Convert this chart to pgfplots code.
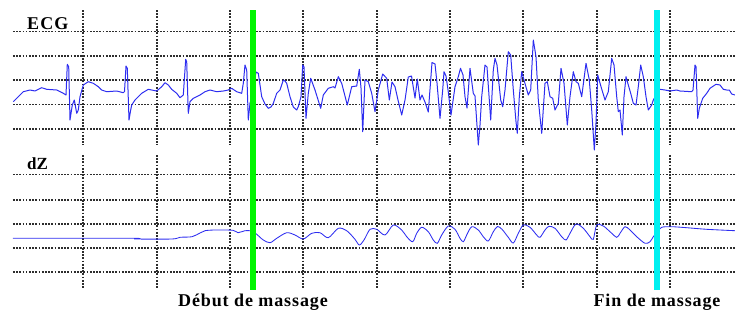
\documentclass[border=0pt]{standalone}
\usepackage{pgfplots}
\pgfplotsset{compat=1.18}
\usepackage{fontspec}
\setmainfont{Liberation Serif}
\definecolor{sig}{RGB}{45,45,240}
\definecolor{gridc}{RGB}{45,45,45}
\pgfplotsset{
  panel/.style={
    scale only axis, width=722pt, xmin=13, xmax=735, y dir=reverse,
    xtick={83,157,230,303,377,450,523,597,670},
    xticklabels={}, yticklabels={}, major tick length=0pt,
    axis line style={draw=none}, grid=major,
    major grid style={gridc, line width=1.1pt, dash pattern=on 1.7pt off 1.5pt},
    clip=false,
  }
}
\begin{document}
\begin{tikzpicture}
\useasboundingbox (0,0) rectangle (735pt,-314pt);
% ECG panel
\begin{axis}[panel, at={(13pt,-145pt)}, anchor=south west, height=135pt, ymin=10, ymax=145,
  ytick={31.5,56,80,104.5,129}]
\addplot[sig, line width=1pt, line join=round] coordinates {
(13.3,101.7) (18,97) (23.3,91.7) (30,90) (35,91) (41.7,87.7) (46.7,89.3) (56.7,90) (63.3,93.3) (66,95) (67.3,64.3) (68.7,66.7) (70,120) (72.3,105) (74.3,100) (76.7,113.3) (78.3,110) (80,96.7) (83.3,85) (88.3,81.7) (93.3,83.3) (98.3,86.7) (101.7,90) (106.7,91.7) (116.7,91) (123.3,92.7) (124.5,91.5) (126,66) (127.3,68.3) (129,120) (130.7,110) (131.7,105) (135,100) (141.7,93.3) (148.3,89.3) (151.7,90) (156.7,91) (161.7,86.7) (165,82.7) (168.3,85) (171.7,89.3) (176.7,93.3) (180,97.7) (183.3,95) (185.7,59.3) (186.7,61.7) (188.3,113.3) (190,101.7) (193.3,98.3) (200,95) (205,91.7) (210,90) (216.7,91.7) (223.3,91) (228.3,90) (231.7,88.3) (236.7,91.7) (241.7,93.3) (243.3,83.3) (245,65) (246.7,70) (248.3,120) (250,103) (252,97) (256,72)
(258.3,73.3) (261.7,96.7) (265,104) (268.3,108.3) (271,107) (273.3,103.3) (276.7,93.3) (280,90) (283.3,80) (285,81) (286.7,83.3) (290,96.7) (293.3,107) (296.7,110) (298.3,106.7) (301,96.7) (302.7,65) (304,67) (306,118.3) (308.3,93.3) (310.7,78.3) (315,90) (320.7,108.3) (323.3,95) (328.3,88.3) (333.3,86.7) (335,88) (338.3,76.7) (341.7,83.3) (347.3,105) (351.7,86.7) (356.7,86) (359.3,69.3) (361,88) (362.7,131.7) (365,80) (368.3,81.7) (371.7,93.3) (375,111.7) (378.3,90) (382.7,74) (386.7,78.3) (389.3,100) (392,82) (395,86.7) (398,100) (401.7,115) (405,100) (408.3,77) (411.5,76) (415,98) (417.3,79) (420,100) (422,95) (425,102) (428.3,112) (432,62.5) (435,64) (437,83) (440,118.3) (442.7,90) (444,71.7) (446,76) (448.3,92) (451,115) (455,86.7) (458.3,76.7) (460.5,68.3) (463,75) (465,96.7) (467,108) (470,68.3) (473.3,93.3) (475,96) (478.3,145) (480,125) (481.7,96.7) (485,65) (487,67) (490.7,120) (493.3,70) (495,58.3) (497,65) (500.7,100) (502.7,106.7) (505,90) (508.3,51.7) (510.7,55) (513.3,90) (516,121.7) (517.3,133.3) (519.3,96.7) (521.7,71.7) (524,80) (528.3,95) (530.7,90) (533.3,40) (536,56.7) (538.3,100) (541.7,133.3) (545,83.3) (547.3,81.7) (550,96.7) (552.7,98.3) (555,110) (558.3,103.3) (561,68.3) (564,83.3) (567.3,125) (570,96.7) (573.3,71.7) (576,81.7) (578.3,83.3) (581.7,96.7) (586,63.3) (589.3,80) (591.7,110) (594.3,150) (596,123) (597.7,75) (601,86.7) (605,100) (608.3,91.7) (611.7,58.3) (614,65) (616.7,96.7) (618.3,111.7) (620,110) (622.3,135) (624,96.7) (626,76.7) (628.3,85) (630.7,93.3) (633.3,103.3) (636,105) (638.3,86.7) (640.7,65) (643.3,76.7) (646,96.7) (648.3,110) (651.7,105) (653.3,100) (655,97)
(660,89.3) (665,90) (670,91) (676.7,90) (680,91) (691.7,91.7) (693,90) (695,65) (696,66.7) (697.7,118.3) (699.3,108.3) (702.7,98.3) (706.7,93.3) (710,88.3) (716,84.3) (720,85) (723.3,89.3) (726.7,90) (729.3,90) (731.7,94) (735,95)
};
\end{axis}
% dZ panel
\begin{axis}[panel, at={(13pt,-288pt)}, anchor=south west, height=133pt, ymin=155, ymax=288,
  ytick={174.5,200,224,248,272}]
\addplot[sig, line width=0.85pt, smooth, tension=0.5] coordinates {
(13,238.3) (133,238.3) (135,239) (172,239) (180,237.3) (192,236.7) (200,233) (205,230.7) (215,230) (233,230.3) (238,232.7) (245,230.7) (251.7,231) (256.7,234.3) (263.3,240) (270,242.7) (276.7,238.3) (286.7,232.7) (295,235) (303.3,239) (311.7,233.3) (320,232.7) (328.3,237.7) (338.3,228.3) (346.7,230.7) (355,239.3) (359.3,245) (364,240) (370,229.3) (376.7,229.3) (385,235) (393.3,225) (401.7,230) (406.7,236.7) (412.7,241.7) (416.7,233.3) (421.7,227.3) (428.3,231.7) (433.3,240) (437.3,243.3) (441.7,235) (448.3,226) (455,229.3) (460,238.3) (463.3,241.7) (466.7,235) (471.7,226.7) (478.3,230) (483.3,236.7) (488.3,241) (493.3,231.7) (497.5,226.5) (502,229.3) (508.3,237.3) (513.3,243) (518.3,233.3) (523.3,225) (530,227.3) (536.7,235) (540,237.3) (545,230) (549,226.3) (555,228.3) (561.7,236.7) (566,240) (570,233.3) (576,224) (583.3,228.3) (590,236.7) (593.3,239.3) (596.7,225) (603.3,226) (610,231.7) (616.7,237.3) (620,233.3) (625,226.7) (630,230) (636.7,236.7) (645,243.3) (650,241.7) (653.3,236.7) (657,232) (661.7,227.3) (671.7,226.7) (686.7,227.7) (706.7,229.3) (735,230.7)
};
\end{axis}
% overlay: markers and labels
\begin{axis}[scale only axis, at={(0pt,-314pt)}, anchor=south west, width=735pt, height=314pt,
  xmin=0, xmax=735, ymin=0, ymax=314, y dir=reverse, hide axis, clip=false]
\addplot[draw={rgb,255:red,0;green,245;blue,0}, line width=6pt] coordinates {(253,10) (253,290)};
\addplot[draw={rgb,255:red,0;green,240;blue,240}, line width=6pt] coordinates {(657,10) (657,290)};
\node[anchor=base west, inner sep=0pt, font=\bfseries\fontsize{18}{18}\selectfont\addfontfeature{LetterSpace=6}] at (axis cs:27,29) {ECG};
\node[anchor=base west, inner sep=0pt, font=\bfseries\fontsize{17}{17}\selectfont] at (axis cs:27,169) {dZ};
\node[anchor=base, inner sep=0pt, font=\bfseries\fontsize{18}{18}\selectfont\addfontfeature{LetterSpace=5}] at (axis cs:253,306) {Début de massage};
\node[anchor=base, inner sep=0pt, font=\bfseries\fontsize{18}{18}\selectfont\addfontfeature{LetterSpace=5}] at (axis cs:657,306) {Fin de massage};
\end{axis}
\end{tikzpicture}
\end{document}
